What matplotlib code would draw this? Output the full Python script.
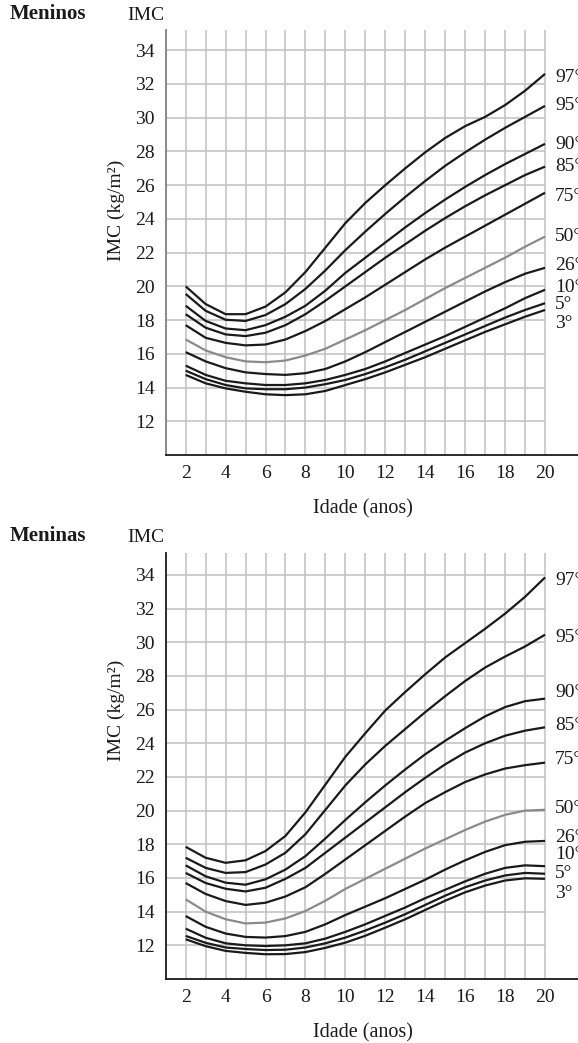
import matplotlib
matplotlib.use("Agg")
import matplotlib.pyplot as plt

plt.rcParams['font.family'] = ['Liberation Serif', 'DejaVu Serif']

ages = list(range(2, 21))
percentiles = ['97°', '95°', '90°', '85°', '75°', '50°', '26°', '10°', '5°', '3°']

boys_p97 = [20.0, 18.95, 18.35, 18.35, 18.8, 19.65, 20.85, 22.3, 23.75, 24.95, 26.0, 27.0, 27.95, 28.8, 29.5, 30.05, 30.75, 31.6, 32.6]
boys_p95 = [19.55, 18.55, 18.02, 17.95, 18.3, 18.95, 19.85, 20.95, 22.15, 23.25, 24.3, 25.3, 26.25, 27.15, 27.95, 28.7, 29.4, 30.05, 30.7]
boys_p90 = [18.85, 17.95, 17.5, 17.4, 17.7, 18.2, 18.85, 19.75, 20.8, 21.7, 22.6, 23.5, 24.35, 25.15, 25.9, 26.6, 27.25, 27.85, 28.45]
boys_p85 = [18.35, 17.55, 17.15, 17.05, 17.25, 17.7, 18.35, 19.15, 20.0, 20.85, 21.7, 22.5, 23.3, 24.05, 24.75, 25.4, 26.0, 26.6, 27.1]
boys_p75 = [17.7, 16.95, 16.65, 16.5, 16.55, 16.85, 17.35, 17.95, 18.65, 19.35, 20.1, 20.85, 21.6, 22.3, 22.95, 23.6, 24.25, 24.9, 25.55]
boys_p50 = [16.85, 16.2, 15.8, 15.55, 15.5, 15.6, 15.9, 16.3, 16.85, 17.4, 18.0, 18.6, 19.25, 19.9, 20.5, 21.1, 21.7, 22.35, 22.95]
boys_p26 = [16.1, 15.55, 15.15, 14.9, 14.8, 14.75, 14.85, 15.1, 15.55, 16.1, 16.7, 17.3, 17.9, 18.5, 19.1, 19.7, 20.25, 20.75, 21.1]
boys_p10 = [15.3, 14.75, 14.4, 14.25, 14.15, 14.15, 14.25, 14.45, 14.75, 15.1, 15.55, 16.05, 16.55, 17.05, 17.6, 18.15, 18.7, 19.3, 19.8]
boys_p5 = [15.0, 14.5, 14.15, 13.95, 13.9, 13.9, 14.0, 14.2, 14.45, 14.8, 15.2, 15.65, 16.15, 16.65, 17.15, 17.65, 18.15, 18.6, 19.0]
boys_p3 = [14.75, 14.25, 13.95, 13.75, 13.6, 13.55, 13.6, 13.8, 14.15, 14.5, 14.9, 15.35, 15.8, 16.3, 16.8, 17.3, 17.75, 18.2, 18.6]

girls_p97 = [17.85, 17.2, 16.9, 17.05, 17.6, 18.5, 19.9, 21.55, 23.2, 24.6, 25.95, 27.05, 28.1, 29.1, 29.95, 30.8, 31.7, 32.7, 33.85]
girls_p95 = [17.2, 16.6, 16.3, 16.35, 16.8, 17.5, 18.6, 20.05, 21.5, 22.75, 23.85, 24.85, 25.85, 26.8, 27.7, 28.5, 29.15, 29.75, 30.45]
girls_p90 = [16.75, 16.1, 15.72, 15.6, 15.92, 16.5, 17.3, 18.35, 19.45, 20.5, 21.5, 22.45, 23.35, 24.15, 24.9, 25.6, 26.15, 26.5, 26.65]
girls_p85 = [16.3, 15.7, 15.36, 15.2, 15.42, 15.95, 16.6, 17.5, 18.4, 19.3, 20.2, 21.1, 21.95, 22.75, 23.45, 24.0, 24.45, 24.75, 24.95]
girls_p75 = [15.7, 15.05, 14.63, 14.4, 14.53, 14.9, 15.45, 16.25, 17.1, 17.95, 18.8, 19.65, 20.45, 21.1, 21.7, 22.15, 22.5, 22.7, 22.85]
girls_p50 = [14.73, 14.0, 13.55, 13.3, 13.35, 13.6, 14.04, 14.65, 15.35, 15.95, 16.55, 17.15, 17.75, 18.3, 18.85, 19.35, 19.75, 20.0, 20.05]
girls_p26 = [13.74, 13.1, 12.7, 12.5, 12.46, 12.55, 12.8, 13.25, 13.8, 14.3, 14.8, 15.35, 15.9, 16.5, 17.05, 17.55, 17.95, 18.15, 18.2]
girls_p10 = [12.99, 12.45, 12.12, 12.0, 11.96, 12.0, 12.12, 12.4, 12.8, 13.25, 13.75, 14.25, 14.8, 15.3, 15.8, 16.25, 16.6, 16.75, 16.7]
girls_p5 = [12.56, 12.15, 11.87, 11.78, 11.72, 11.74, 11.87, 12.12, 12.46, 12.88, 13.35, 13.85, 14.4, 14.95, 15.45, 15.85, 16.15, 16.3, 16.25]
girls_p3 = [12.36, 11.95, 11.67, 11.55, 11.47, 11.48, 11.6, 11.85, 12.16, 12.57, 13.05, 13.55, 14.1, 14.65, 15.15, 15.55, 15.85, 15.98, 15.95]

boys_label_y = [32.4, 30.7, 28.4, 27.1, 25.3, 22.95, 21.25, 19.95, 18.9, 17.8]
girls_label_y = [33.65, 30.3, 27.0, 25.05, 23.05, 20.15, 18.4, 17.4, 16.25, 15.1]

yticks = list(range(12, 35, 2))
xticks = list(range(2, 21, 2))
grid_x = list(range(2, 21))

boys = [boys_p97, boys_p95, boys_p90, boys_p85, boys_p75, boys_p50, boys_p26, boys_p10, boys_p5, boys_p3]
girls = [girls_p97, girls_p95, girls_p90, girls_p85, girls_p75, girls_p50, girls_p26, girls_p10, girls_p5, girls_p3]

W, H = 578, 1043
fig = plt.figure(figsize=(W / 100, H / 100), dpi=100)

FS = 14
GRID = '#c0c0c0'
INK = '#1a1a1a'


def panel(rect, series, label_y, ytop, left_spine_color, label_center_y):
    ax = fig.add_axes(rect)
    ax.set_xlim(1, 21.65)
    ax.set_ylim(10, ytop)
    ax.hlines(yticks, 1, 20, colors=GRID, linewidth=1.1, zorder=1)
    ax.vlines(grid_x, 10, ytop, colors=GRID, linewidth=1.1, zorder=1)
    for name, vals, ly in zip(percentiles, series, label_y):
        col = '#8a8a8a' if name == '50°' else INK
        ax.plot(ages, vals, color=col, linewidth=1.6, zorder=3,
                solid_capstyle='butt', solid_joinstyle='round')
        ax.text(20.5, ly, name, fontsize=FS, va='center', ha='left',
                color=INK, clip_on=False)
    for s in ['top', 'right']:
        ax.spines[s].set_visible(False)
    ax.spines['left'].set_color(left_spine_color)
    ax.spines['left'].set_linewidth(1.3)
    ax.spines['bottom'].set_color(INK)
    ax.spines['bottom'].set_linewidth(1.3)
    ax.set_yticks(yticks)
    ax.set_xticks(xticks)
    ax.tick_params(axis='both', length=0, labelsize=FS, colors=INK)
    ax.tick_params(axis='y', pad=8)
    ax.tick_params(axis='x', pad=7)
    ax.set_xlabel('Idade (anos)', fontsize=FS + 0.5, color=INK)
    ax.xaxis.set_label_coords(0.478, -0.103)
    ax.text(-0.12, label_center_y, 'IMC (kg/m²)', transform=ax.transAxes,
            rotation=90, fontsize=FS, va='center', ha='center', color=INK)
    return ax


ax1 = panel([165.7 / W, (H - 455) / H, (W - 165.7) / W, 425 / H], boys, boys_label_y,
            35.2, '#808080', 0.576)
ax2 = panel([165.7 / W, (H - 979) / H, (W - 165.7) / W, 426 / H], girls, girls_label_y,
            35.3, INK, 0.63)

fig.text(10 / W, 1 - 14 / H, 'Meninos', fontsize=15, fontweight='bold', va='center', ha='left', color=INK)
fig.text(127 / W, 1 - 15 / H, 'IMC', fontsize=FS, va='center', ha='left', color=INK)
fig.text(10 / W, 1 - 536 / H, 'Meninas', fontsize=15, fontweight='bold', va='center', ha='left', color=INK)
fig.text(127 / W, 1 - 537 / H, 'IMC', fontsize=FS, va='center', ha='left', color=INK)

fig.savefig('out.png', dpi=100)
